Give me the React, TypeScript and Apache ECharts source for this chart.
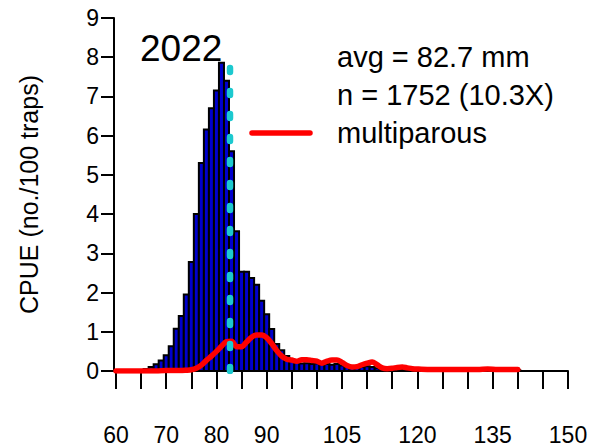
import React, { useEffect, useRef } from "react";
import * as echarts from "echarts";

// Carapace length bins (mm, bin centres) and catch per unit effort for all crabs
const binMm = [
  65, 66, 67, 68, 69, 70, 71, 72, 73, 74, 75, 76, 77, 78, 79, 80, 81, 82, 83, 84,
  85, 86, 87, 88, 89, 90, 91, 92, 93, 94, 95, 96, 97, 98, 99, 100, 101, 102, 103, 104,
  105, 106, 107, 108, 109, 110, 111, 112, 113, 114, 115, 116, 117, 118, 119, 120,
  121, 122, 123, 124, 125, 126, 127, 128, 129, 130, 131, 132, 133, 134, 135, 136, 137, 138, 139, 140,
];
const cpueAll = [
  0.02, 0.05, 0.1, 0.17, 0.27, 0.4, 0.63, 1.08, 1.4, 1.95, 2.78, 4.0, 5.3, 6.16, 6.7, 7.15, 7.86, 7.4, 5.6, 3.56,
  2.53, 2.53, 2.37, 2.2, 1.79, 1.45, 1.07, 0.69, 0.53, 0.38, 0.3, 0.22, 0.19, 0.2, 0.18, 0.19, 0.17, 0.18, 0.16, 0.18,
  0.14, 0.1, 0.08, 0.09, 0.1, 0.12, 0.1, 0.07, 0.05, 0.05, 0.04, 0.05, 0.05, 0.04, 0.03, 0.03,
  0.02, 0.02, 0.02, 0.02, 0.02, 0.02, 0.02, 0.02, 0.02, 0.02, 0.02, 0.02, 0.02, 0.02, 0.02, 0.02, 0.02, 0.02, 0.02, 0.02,
];

// Multiparous females, CPUE by length (mm)
const multiMm = [
  60, 62, 64, 66, 68, 70, 72, 74, 75, 76, 77, 78, 79, 80, 81, 82, 83, 84, 85, 86, 87, 88, 89, 90,
  91, 92, 93, 94, 95, 96, 97, 98, 99, 100, 101, 102, 103, 104, 105, 106, 107, 108, 109, 110,
  111, 112, 113, 114, 115, 116, 117, 118, 119, 120, 122, 124, 126, 128, 130, 132, 134, 136, 138, 140,
];
const multiparous = [
  0, 0, 0, 0, 0, 0.01, 0.01, 0.02, 0.03, 0.07, 0.15, 0.27, 0.38, 0.5, 0.63, 0.75, 0.76, 0.62, 0.62, 0.74, 0.86, 0.92, 0.92, 0.85,
  0.7, 0.52, 0.38, 0.3, 0.28, 0.25, 0.29, 0.29, 0.27, 0.25, 0.2, 0.25, 0.28, 0.28, 0.22, 0.14, 0.1, 0.11, 0.16, 0.2,
  0.23, 0.16, 0.08, 0.06, 0.07, 0.09, 0.1, 0.08, 0.06, 0.05, 0.04, 0.04, 0.04, 0.04, 0.04, 0.04, 0.05, 0.04, 0.04, 0.04,
];

const avgLength = 82.7;
const xLabelValues = [60, 70, 80, 90, 105, 120, 135, 150];
const yearLabel = "2022";
const statLines = ["avg = 82.7 mm", "n = 1752 (10.3X)"];
const legendLabel = "multiparous";

const FONT = '"Liberation Sans", Arial, Helvetica, sans-serif';

export default function App() {
  const ref = useRef<HTMLDivElement>(null);

  useEffect(() => {
    if (!ref.current) return;
    const chart = echarts.init(ref.current, null, { renderer: "svg" });

    const barData = binMm.map((m, i) => [m, cpueAll[i]]);
    const lineData = multiMm.map((m, i) => [m, multiparous[i]]);
    const peak = Math.max(...cpueAll);

    chart.setOption({
      animation: false,
      backgroundColor: "#ffffff",
      grid: { left: 116, right: 24, top: 18, bottom: 72, containLabel: false },
      xAxis: {
        type: "value",
        min: 60,
        max: 150,
        interval: 5,
        splitLine: { show: false },
        axisLine: { show: true, onZero: true, lineStyle: { color: "#000", width: 2 } },
        axisTick: { show: true, length: 18, lineStyle: { color: "#000", width: 2 } },
        axisLabel: {
          margin: 52,
          fontSize: 23,
          fontFamily: FONT,
          color: "#000",
          formatter: (v: number) => (xLabelValues.includes(v) ? String(v) : ""),
        },
      },
      yAxis: {
        type: "value",
        min: 0,
        max: 9,
        interval: 1,
        offset: 2,
        name: "CPUE (no./100 traps)",
        nameLocation: "middle",
        nameGap: 73,
        nameTextStyle: { fontSize: 25, fontFamily: FONT, color: "#000" },
        splitLine: { show: false },
        axisLine: { show: true, lineStyle: { color: "#000", width: 2 } },
        axisTick: { show: true, length: 13, lineStyle: { color: "#000", width: 2 } },
        axisLabel: { margin: 15, fontSize: 23, fontFamily: FONT, color: "#000" },
      },
      series: [
        {
          type: "custom",
          data: barData,
          z: 2,
          renderItem: (params: any, api: any) => {
            const x = api.value(0);
            const v = api.value(1);
            const a = api.coord([x - 0.5, v]);
            const b = api.coord([x + 0.5, 0]);
            return {
              type: "rect",
              shape: { x: a[0], y: a[1], width: b[0] - a[0], height: b[1] - a[1] },
              style: { fill: "#0000CD", stroke: "#000", lineWidth: 2 },
            };
          },
        },
        {
          type: "line",
          data: lineData,
          smooth: 0.3,
          showSymbol: false,
          z: 3,
          lineStyle: { color: "#FF0000", width: 5.5, cap: "round", join: "round" },
        },
        {
          type: "line",
          data: [
            [avgLength, 0],
            [avgLength, peak],
          ],
          showSymbol: false,
          z: 4,
          lineStyle: { color: "#1CC9CF", width: 6.5, type: [4, 19], cap: "round" },
        },
      ],
      graphic: [
        {
          type: "text",
          left: 140,
          top: 30,
          style: { text: yearLabel, fontSize: 37, fontFamily: FONT, fill: "#000" },
        },
        {
          type: "text",
          left: 337,
          top: 42,
          style: { text: statLines[0], fontSize: 29, fontFamily: FONT, fill: "#000" },
        },
        {
          type: "text",
          left: 337,
          top: 80,
          style: { text: statLines[1], fontSize: 29, fontFamily: FONT, fill: "#000" },
        },
        {
          type: "line",
          shape: { x1: 252, y1: 133, x2: 310, y2: 133 },
          style: { stroke: "#FF0000", lineWidth: 5.5, lineCap: "round" },
        },
        {
          type: "text",
          left: 337,
          top: 118,
          style: { text: legendLabel, fontSize: 29, fontFamily: FONT, fill: "#000" },
        },
      ],
    });

    return () => chart.dispose();
  }, []);

  return (
    <div
      ref={ref}
      style={{ position: "fixed", left: 0, top: 0, width: 592, height: 446, background: "#fff" }}
    />
  );
}
